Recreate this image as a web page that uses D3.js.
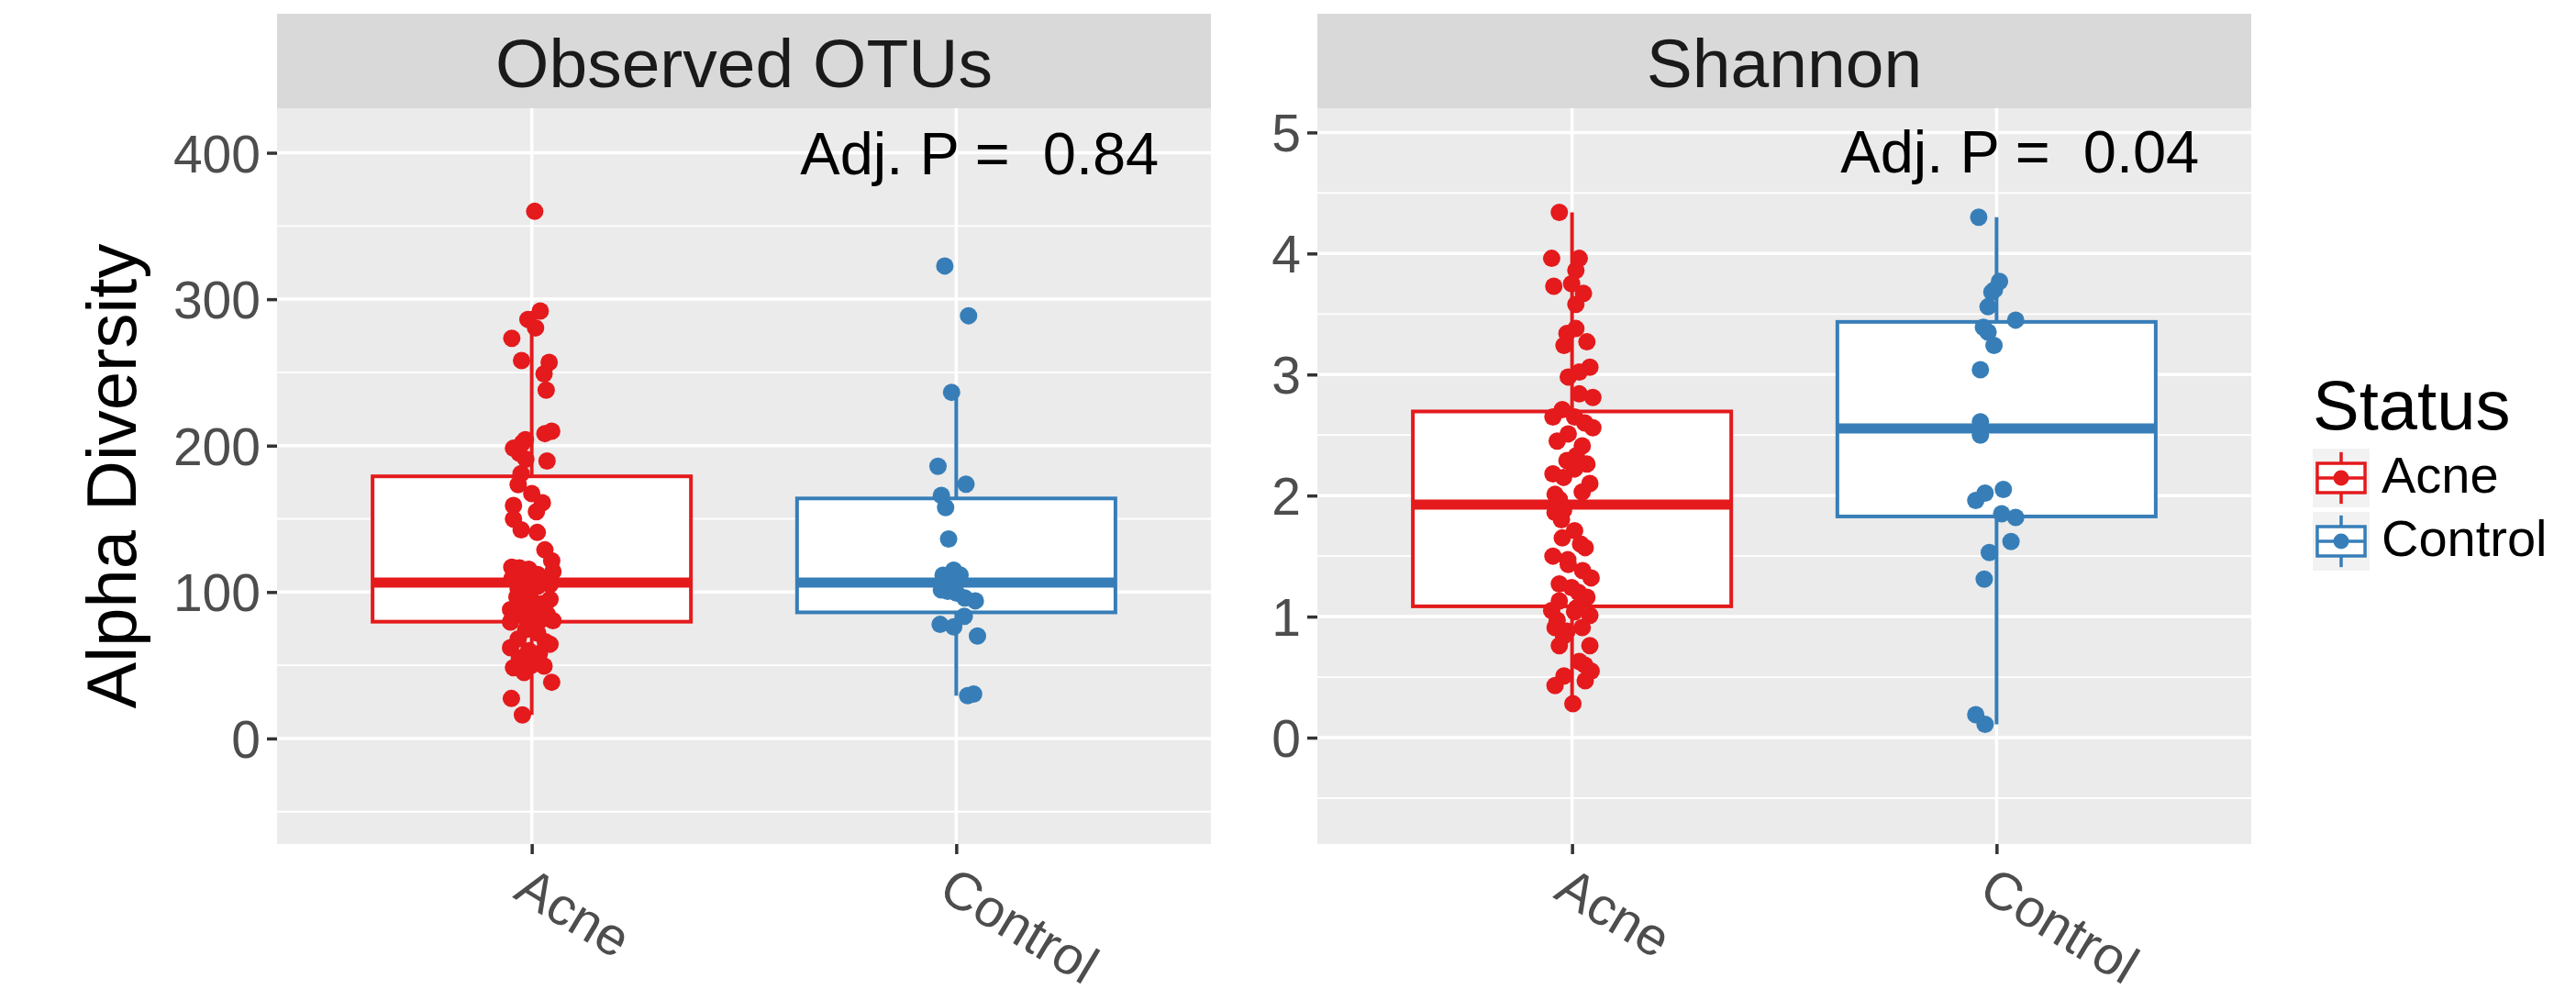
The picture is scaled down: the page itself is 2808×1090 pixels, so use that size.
<!DOCTYPE html>
<html><head><meta charset="utf-8">
<script src="https://cdn.jsdelivr.net/npm/d3@7"></script>
<style>
body{margin:0;background:#fff}
svg{display:block}
text{font-family:"Liberation Sans",Arial,Helvetica,sans-serif}
</style>
</head><body>
<svg id="chart" width="2808" height="1090"></svg>
<script>
// ---------------- data ----------------
const categories = ["Acne", "Control"];
const statusColors = ["#E41A1C", "#377EB8"];
const facetTitles = ["Observed OTUs", "Shannon"];
const yAxisTitle = "Alpha Diversity";
const legendTitle = "Status";

const otuTicks = [0, 100, 200, 300, 400];
const otuMinorTicks = [-50, 50, 150, 250, 350];
const shannonTicks = [0, 1, 2, 3, 4, 5];
const shannonMinorTicks = [-0.5, 0.5, 1.5, 2.5, 3.5, 4.5];

const pLabels = ["Adj. P =  0.84", "Adj. P =  0.04"];
const pLabelY = [400, 4.84];
const pLabelX = 2.055;

// Observed OTUs
const otuAcne = [360, 291.9, 286.2, 280.4, 273.3, 258.1, 256.9, 249, 237.9, 209.9, 208.2, 204, 201.9, 198.2, 195, 190.8, 189.5, 180.9,
  173.4, 167.3, 161, 159.1, 154.9, 149.9, 142.5, 140.7, 128.8, 121.4, 117, 116.5, 115.5, 114, 112, 109, 108,
  105, 104, 102, 100, 96.6, 95, 94.2, 92, 90, 88, 86.7, 85, 84, 83, 82.5, 81, 80.5,
  79.5, 77, 74.3, 72, 68, 66, 64.4, 62, 60, 58, 55, 50, 49.5, 48.3, 45, 38.4, 27.3, 16.1];
const otuAcneJitter = [0.007, 0.020, -0.009, 0.009, -0.047, -0.024, 0.041, 0.029, 0.034, 0.047, 0.031, -0.015, -0.022, -0.043, -0.030, -0.014, 0.036, -0.025,
  -0.032, 0.000, 0.025, -0.043, 0.011, -0.043, -0.025, 0.013, 0.031, 0.047, -0.047, -0.029, -0.007, 0.050, 0.014, -0.047, -0.022,
  0.043, 0.014, -0.032, -0.007, -0.035, 0.043, 0.000, 0.025, -0.018, -0.050, -0.029, 0.036, 0.007, -0.043, -0.011, 0.022, 0.050,
  -0.050, 0.000, -0.014, 0.014, -0.032, 0.032, 0.043, -0.050, -0.007, 0.018, -0.029, 0.000, 0.029, -0.043, -0.018, 0.047, -0.048, -0.022];
const otuControl = [322.7, 288.7, 236.4, 185.9, 173.7, 166, 157.7, 136.2, 114.9, 111.7, 111.5, 101.5, 100.5, 99.2, 96, 94, 83.5, 77.9, 76.2, 70, 30.3, 29.2];
const otuControlJitter = [-0.027, 0.029, -0.011, -0.043, 0.023, -0.035, -0.025, -0.018, -0.006, 0.009, -0.031, -0.035, -0.020, 0.001, 0.020, 0.045, 0.019, -0.038, -0.006, 0.050, 0.041, 0.027];

// Shannon
const shannonAcne = [4.34, 3.96, 3.96, 3.86, 3.75, 3.73, 3.67, 3.58, 3.38, 3.34, 3.27, 3.24, 3.06, 3.02, 2.98, 2.84, 2.81, 2.71,
  2.65, 2.65, 2.60, 2.56, 2.51, 2.45, 2.41, 2.33, 2.29, 2.26, 2.22, 2.18, 2.15, 2.10, 2.03, 2.01, 1.97,
  1.88, 1.86, 1.80, 1.71, 1.65, 1.60, 1.57, 1.50, 1.47, 1.43, 1.38, 1.32, 1.27, 1.24, 1.20, 1.16, 1.13,
  1.07, 1.05, 1.04, 1.01, 0.97, 0.91, 0.91, 0.88, 0.84, 0.76, 0.76, 0.63, 0.60, 0.55, 0.51, 0.47, 0.43, 0.28];
const shannonAcneJitter = [-0.030, -0.048, 0.017, 0.009, -0.001, -0.043, 0.027, 0.009, 0.009, -0.012, 0.035, -0.019, 0.042, 0.017, -0.009, 0.017, 0.049, -0.023,
  -0.045, 0.006, 0.030, 0.049, -0.009, -0.035, 0.024, 0.010, -0.012, 0.035, 0.006, -0.045, -0.020, 0.042, 0.024, -0.040, -0.030,
  -0.020, -0.040, -0.025, 0.006, -0.023, 0.020, 0.031, -0.045, -0.010, -0.009, 0.025, 0.045, -0.030, -0.001, 0.015, 0.035, -0.030,
  0.010, -0.048, 0.006, 0.042, -0.035, -0.040, 0.024, -0.012, -0.020, -0.030, 0.042, 0.017, 0.030, 0.045, -0.019, 0.031, -0.040, 0.002];
const shannonControl = [4.30, 3.77, 3.70, 3.68, 3.56, 3.45, 3.39, 3.35, 3.24, 3.04, 2.61, 2.50, 2.05, 2.02, 1.96, 1.85, 1.82, 1.62, 1.53, 1.31, 0.19, 0.11];
const shannonControlJitter = [-0.042, 0.007, -0.005, -0.011, -0.020, 0.045, -0.031, -0.020, -0.006, -0.038, -0.038, -0.038, 0.016, -0.027, -0.049, 0.012, 0.045, 0.034, -0.017, -0.029, -0.049, -0.027];

// ---------------- assemble ----------------
const facets = [
  { title: facetTitles[0], ticks: otuTicks, minor: otuMinorTicks, domain: [-72.1, 430.4],
    groups: [{ values: otuAcne, jitter: otuAcneJitter }, { values: otuControl, jitter: otuControlJitter }],
    pLabel: pLabels[0], pY: pLabelY[0] },
  { title: facetTitles[1], ticks: shannonTicks, minor: shannonMinorTicks, domain: [-0.879, 5.2],
    groups: [{ values: shannonAcne, jitter: shannonAcneJitter }, { values: shannonControl, jitter: shannonControlJitter }],
    pLabel: pLabels[1], pY: pLabelY[1] }
];

const FONT = '"Liberation Sans", Arial, Helvetica, sans-serif';
const plotTop = 118, plotBottom = 920, stripTop = 15;
const panelX = [[302, 1320], [1436, 2454]];

function boxStats(vals) {
  const s = vals.slice().sort(d3.ascending);
  const q1 = d3.quantileSorted(s, 0.25), med = d3.quantileSorted(s, 0.5), q3 = d3.quantileSorted(s, 0.75);
  const iqr = q3 - q1;
  const lo = d3.min(s.filter(v => v >= q1 - 1.5 * iqr));
  const hi = d3.max(s.filter(v => v <= q3 + 1.5 * iqr));
  return { q1, med, q3, lo, hi };
}

const svg = d3.select("#chart");
svg.append("rect").attr("width", 2808).attr("height", 1090).attr("fill", "#fff");

facets.forEach((f, i) => {
  const [x0, x1] = panelX[i];
  const x = d3.scalePoint().domain(categories).range([x0, x1]).padding(0.6);
  const step = x.step();
  const xNum = d3.scaleLinear().domain([0.4, 2.6]).range([x0, x1]);
  const y = d3.scaleLinear().domain(f.domain).range([plotBottom, plotTop]);
  const g = svg.append("g");

  // panel + strip
  g.append("rect").attr("x", x0).attr("y", plotTop).attr("width", x1 - x0).attr("height", plotBottom - plotTop).attr("fill", "#EBEBEB");
  g.append("rect").attr("x", x0).attr("y", stripTop).attr("width", x1 - x0).attr("height", plotTop - stripTop).attr("fill", "#D9D9D9");
  g.append("text").attr("x", (x0 + x1) / 2).attr("y", 95).attr("text-anchor", "middle")
    .attr("font-size", 75).attr("fill", "#1A1A1A").text(f.title);

  // grid
  g.selectAll(".minor").data(f.minor).join("line")
    .attr("x1", x0).attr("x2", x1).attr("y1", d => y(d)).attr("y2", d => y(d))
    .attr("stroke", "#fff").attr("stroke-width", 1.8);
  g.selectAll(".major").data(f.ticks).join("line")
    .attr("x1", x0).attr("x2", x1).attr("y1", d => y(d)).attr("y2", d => y(d))
    .attr("stroke", "#fff").attr("stroke-width", 3.5);
  g.selectAll(".vmajor").data(categories).join("line")
    .attr("x1", d => x(d)).attr("x2", d => x(d)).attr("y1", plotTop).attr("y2", plotBottom)
    .attr("stroke", "#fff").attr("stroke-width", 3.5);

  // boxplots
  f.groups.forEach((grp, k) => {
    const st = boxStats(grp.values);
    const cx = x(categories[k]);
    const hw = 0.375 * step;
    const col = statusColors[k];
    g.append("line").attr("x1", cx).attr("x2", cx).attr("y1", y(st.q3)).attr("y2", y(st.hi))
      .attr("stroke", col).attr("stroke-width", 4);
    g.append("line").attr("x1", cx).attr("x2", cx).attr("y1", y(st.q1)).attr("y2", y(st.lo))
      .attr("stroke", col).attr("stroke-width", 4);
    g.append("rect").attr("x", cx - hw).attr("y", y(st.q3)).attr("width", 2 * hw).attr("height", y(st.q1) - y(st.q3))
      .attr("fill", "#fff").attr("stroke", col).attr("stroke-width", 4);
    g.append("line").attr("x1", cx - hw).attr("x2", cx + hw).attr("y1", y(st.med)).attr("y2", y(st.med))
      .attr("stroke", col).attr("stroke-width", 11);
  });

  // jittered points
  f.groups.forEach((grp, k) => {
    const col = statusColors[k];
    g.append("g").selectAll("circle").data(grp.values).join("circle")
      .attr("cx", (d, j) => x(categories[k]) + grp.jitter[j] * step)
      .attr("cy", d => y(d))
      .attr("r", 9.5).attr("fill", col);
  });

  // y axis
  g.append("g").attr("transform", `translate(${x0},0)`)
    .call(d3.axisLeft(y).tickValues(f.ticks).tickSize(11).tickPadding(7).tickFormat(d3.format("d")))
    .attr("font-size", 57).attr("font-family", FONT)
    .call(a => a.select(".domain").remove())
    .call(a => a.selectAll("line").attr("stroke", "#333").attr("stroke-width", 3.5))
    .call(a => a.selectAll("text").attr("fill", "#4D4D4D").attr("dy", "0.36em"));

  // x axis
  g.append("g").attr("transform", `translate(0,${plotBottom})`)
    .call(d3.axisBottom(x).tickSize(11).tickPadding(0))
    .attr("font-size", 58).attr("font-family", FONT)
    .call(a => a.select(".domain").remove())
    .call(a => a.selectAll("line").attr("stroke", "#333").attr("stroke-width", 3.5))
    .call(a => a.selectAll("text").attr("fill", "#4D4D4D")
      .attr("x", 0).attr("y", 0).attr("dy", "0.74em")
      .attr("text-anchor", "start")
      .attr("transform", "translate(0,21) rotate(31)"));

  // p-value annotation
  g.append("text").attr("x", xNum(pLabelX)).attr("y", y(f.pY) + 23)
    .attr("text-anchor", "middle").attr("font-size", 65).attr("fill", "#000")
    .style("white-space", "pre").text(f.pLabel);
});

// y axis title
svg.append("text").attr("transform", `translate(148,${(plotTop + plotBottom) / 2}) rotate(-90)`)
  .attr("text-anchor", "middle").attr("font-size", 76).attr("fill", "#000").text(yAxisTitle);

// legend
const lg = svg.append("g");
lg.append("text").attr("x", 2521).attr("y", 468).attr("font-size", 76).attr("fill", "#000").text(legendTitle);
const keyY = [489, 558], keyW = 62, keyH = 64, keyX = 2521;
categories.forEach((c, k) => {
  const ky = keyY[k], col = statusColors[k], cx = keyX + keyW / 2;
  lg.append("rect").attr("x", keyX).attr("y", ky).attr("width", keyW).attr("height", keyH).attr("fill", "#F2F2F2");
  lg.append("line").attr("x1", cx).attr("x2", cx).attr("y1", ky + 0.06 * keyH).attr("y2", ky + 0.94 * keyH)
    .attr("stroke", col).attr("stroke-width", 3.5);
  lg.append("rect").attr("x", keyX + 0.08 * keyW).attr("y", ky + 0.25 * keyH)
    .attr("width", 0.84 * keyW).attr("height", 0.5 * keyH)
    .attr("fill", "#fff").attr("stroke", col).attr("stroke-width", 3.5);
  lg.append("line").attr("x1", keyX + 0.08 * keyW).attr("x2", keyX + 0.92 * keyW)
    .attr("y1", ky + keyH / 2).attr("y2", ky + keyH / 2).attr("stroke", col).attr("stroke-width", 3.5);
  lg.append("circle").attr("cx", cx).attr("cy", ky + keyH / 2).attr("r", 8.5).attr("fill", col);
  lg.append("text").attr("x", 2596).attr("y", ky + 48).attr("font-size", 56).attr("fill", "#000").text(c);
});
</script>
</body></html>
